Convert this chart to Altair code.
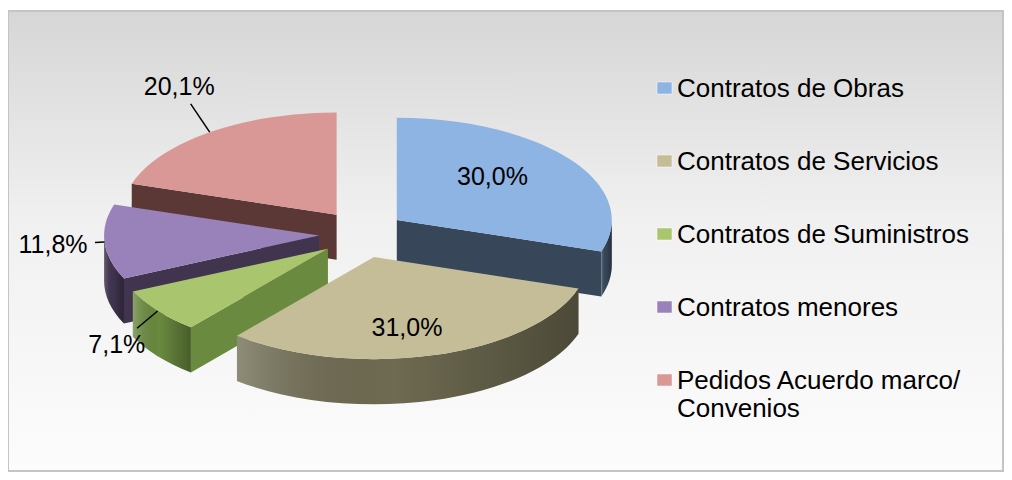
import altair as alt
import pandas as pd

# ---- data ----
categories = [
    "Contratos de Obras",
    "Contratos de Servicios",
    "Contratos de Suministros",
    "Contratos menores",
    "Pedidos Acuerdo marco/ Convenios",
]
shares = [30.0, 31.0, 7.1, 11.8, 20.1]
top_colors = ["#8db4e2", "#c4bd97", "#a9c66e", "#9882b9", "#d99795"]
side_colors = ["#374659", "#6f6b52", "#6a8a3f", "#40344f", "#5b3836"]

df = pd.DataFrame({
    "idx": list(range(len(categories))),
    "cat": categories,
    "value": shares,
    "topc": top_colors,
    "side": side_colors,
})

# ---- layout ----
W, H = 996, 464
CX, CY = 354, 226      # pie centre (px)
RX = 215               # horizontal radius (px)
K = 0.475              # vertical squash of the tilted pie
D = 0.21               # depth in RX units
EXPL = 43              # explosion distance, horizontal (px)
EXPL_Y = 24            # explosion distance, vertical (px)
FONT = "Liberation Sans"
SIZE = (2 * RX) ** 2


def num(e):
    return f"(round(({e})*10000)/10000)"


def P(a, dy=0.0):
    return num(f"sin({a})") + "+','+" + num(f"-cos({a})*{K}+{dy}")


pie_base = (
    alt.Chart(df)
    .transform_joinaggregate(total="sum(value)")
    .transform_window(cum="sum(value)", sort=[alt.SortField("idx", order="ascending")],
                      frame=[None, 0])
    .transform_calculate(
        a1="2*PI*datum.cum/datum.total",
        a0="2*PI*(datum.cum-datum.value)/datum.total",
    )
    .transform_calculate(
        mid="(datum.a0+datum.a1)/2",
        rs="max(datum.a0, PI/2)",
        re="min(datum.a1, 3*PI/2)",
    )
    .transform_calculate(
        px=f"{CX}+{EXPL}*sin(datum.mid)",
        py=f"{CY}-{EXPL_Y}*cos(datum.mid)",
        ord="-cos(datum.mid)",
    )
)

TOP = ("'M0,0L'+" + P("datum.a0") +
       f"+'A1,{K},0,'+(datum.a1-datum.a0>PI?1:0)+',1,'+" + P("datum.a1") + "+'Z'")
RIM = ("datum.rs<datum.re ? ('M'+" + P("datum.rs") + f"+'A1,{K},0,0,1,'+" + P("datum.re") +
       "+'L'+" + P("datum.re", D) + f"+'A1,{K},0,0,0,'+" + P("datum.rs", D) + "+'Z') : ''")
W0 = ("(datum.a0>PI && datum.a0<2*PI) ? ('M0,0L'+" + P("datum.a0") + "+'L'+" + P("datum.a0", D) +
      f"+'L0,{D}Z') : ''")
W1 = ("(datum.a1>0.001 && datum.a1<PI) ? ('M0,0L'+" + P("datum.a1") + "+'L'+" + P("datum.a1", D) +
      f"+'L0,{D}Z') : ''")


def face_layer(expr, fill=None, color_field=None):
    ch = (pie_base.transform_calculate(shp=expr)
          .transform_filter("datum.shp != ''"))
    mark_kw = dict(filled=True, opacity=1, strokeWidth=0, size=SIZE)
    if fill is not None:
        mark_kw["fill"] = fill
    enc = dict(
        x=alt.X("px:Q", scale=None),
        y=alt.Y("py:Q", scale=None),
        shape=alt.Shape("shp:N", scale=None),
        order=alt.Order("ord:Q"),
    )
    if color_field is not None:
        enc["fill"] = alt.Fill(f"{color_field}:N", scale=None)
    return ch.mark_point(**mark_kw).encode(**enc)


walls = alt.layer(face_layer(W0, color_field="side"), face_layer(W1, color_field="side"))
rims = face_layer(RIM, color_field="side")
rim_shade = face_layer(RIM, fill=alt.Gradient(
    gradient="linear",
    stops=[alt.GradientStop(color="rgba(255,255,255,0.22)", offset=0),
           alt.GradientStop(color="rgba(0,0,0,0.0)", offset=0.45),
           alt.GradientStop(color="rgba(0,0,0,0.32)", offset=1)],
    x1=0, x2=1, y1=0, y2=0,
))
tops = face_layer(TOP, color_field="topc")

# ---- data labels ----
lab_base = pie_base.transform_calculate(
    inside="datum.value >= 25",
    txt="replace(format(datum.value, '.1f'), '.', ',') + '%'",
).transform_calculate(
    lx=f"datum.px + (datum.inside ? 0.55 : 1.24)*sin(datum.mid)*{RX}",
    ly=f"datum.py - (datum.inside ? 0.72 : 1.55)*cos(datum.mid)*{K * RX}",
    rx0=f"datum.px + sin(datum.mid)*{RX}",
    ry0=f"datum.py - cos(datum.mid)*{K * RX}",
).transform_calculate(
    dx="datum.lx - datum.rx0",
    dy="datum.ly - datum.ry0",
).transform_calculate(
    s="min(42/max(abs(datum.dx), 0.001), 17/max(abs(datum.dy), 0.001))",
).transform_calculate(
    qx="datum.lx - datum.dx*datum.s",
    qy="datum.ly - datum.dy*datum.s",
)

labels = lab_base.mark_text(font=FONT, fontSize=25, color="#000000").encode(
    x=alt.X("lx:Q", scale=None),
    y=alt.Y("ly:Q", scale=None),
    text="txt:N",
)

leaders = lab_base.transform_filter("!datum.inside && datum.s < 1").mark_rule(
    color="#000000", strokeWidth=1.5
).encode(
    x=alt.X("rx0:Q", scale=None),
    y=alt.Y("ry0:Q", scale=None),
    x2="qx:Q",
    y2="qy:Q",
)

# ---- legend ----
leg_base = alt.Chart(df).transform_calculate(
    ly="80 + datum.idx*73",
    lab="replace(datum.cat, '/ ', '/\\n')",
)
leg_sq = leg_base.transform_calculate(y0="datum.ly-6", y1="datum.ly+6").mark_rect(
    stroke="#ffffff", strokeWidth=0.5
).encode(
    x=alt.value(649), x2=alt.value(664),
    y=alt.Y("y0:Q", scale=None), y2="y1:Q",
    fill=alt.Fill("topc:N", scale=None),
)
leg_txt = leg_base.transform_calculate(yb="datum.ly+9").mark_text(
    font=FONT, fontSize=26, align="left", baseline="alphabetic", color="#000000",
    lineBreak="\n", lineHeight=28,
).encode(
    x=alt.value(669),
    y=alt.Y("yb:Q", scale=None),
    text="lab:N",
)

# ---- background ----
bg = alt.Chart(alt.Data(values=[{"a": 1}])).mark_rect(
    fill=alt.Gradient(
        gradient="linear",
        stops=[alt.GradientStop(color="#d6d6d6", offset=0),
               alt.GradientStop(color="#f0f0f0", offset=0.45),
               alt.GradientStop(color="#fcfcfc", offset=1)],
        x1=0, x2=0, y1=0, y2=1,
    ),
    stroke="#c4c4c4", strokeWidth=2,
).encode(x=alt.value(0), x2=alt.value(995), y=alt.value(3), y2=alt.value(463))

chart = alt.layer(bg, leg_sq, leg_txt, walls, rims, rim_shade, tops, leaders, labels).properties(
    width=W, height=H, padding=0, autosize=alt.AutoSizeParams(type="none"),
).configure_view(strokeWidth=0)

chart.save("out.html", embed_options={"renderer": "svg", "actions": False})
